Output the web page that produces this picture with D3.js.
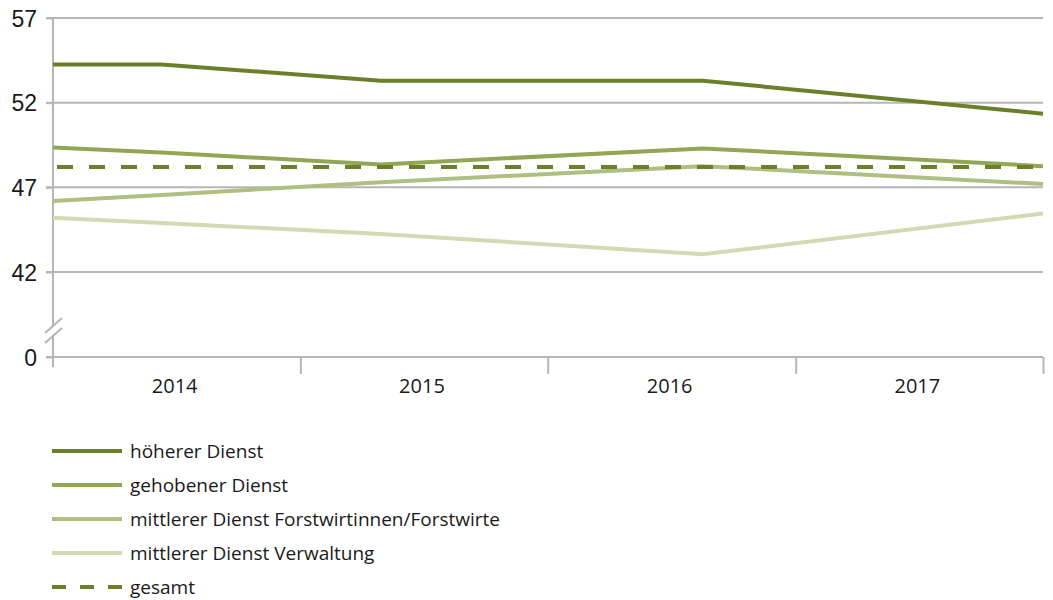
<!DOCTYPE html>
<html lang="de">
<head>
<meta charset="utf-8">
<script src="https://cdn.jsdelivr.net/npm/d3@7"></script>
<style>
  html, body { margin: 0; padding: 0; background: #fff; }
  svg { display: block; font-family: "Open Sans", "Noto Sans", sans-serif; }
</style>
</head>
<body>
<svg id="chart" width="1053" height="600"></svg>
<script>
// Observation dates shared by all series
const dates = ["2014-01-01", "2014-06-10", "2015-04-30", "2016-08-17", "2018-01-01"];

// Series values
const hoehererDienst = [54.25, 54.25, 53.3, 53.3, 51.35];
const gehobenerDienst = [49.35, 49.05, 48.35, 49.3, 48.25];
const mittlererForst = [46.2, 46.55, 47.3, 48.25, 47.2];
const mittlererVerwaltung = [45.2, 44.9, 44.25, 43.05, 45.45];
const gesamt = [48.2, 48.2, 48.2, 48.2, 48.2];

const seriesNames = [
  "höherer Dienst",
  "gehobener Dienst",
  "mittlerer Dienst Forstwirtinnen/Forstwirte",
  "mittlerer Dienst Verwaltung",
  "gesamt"
];
const seriesColors = ["#6b7f28", "#93a655", "#b0be82", "#d2dab4", "#6b7f28"];

// Axis labels
const yTicks = [0, 42, 47, 52, 57];
const years = ["2014", "2015", "2016", "2017"];
const yearBounds = ["2014-01-01", "2015-01-01", "2016-01-01", "2017-01-01", "2018-01-01"];

const parse = d3.utcParse("%Y-%m-%d");
const svg = d3.select("#chart");

const x = d3.scaleUtc()
  .domain([parse(yearBounds[0]), parse(yearBounds[yearBounds.length - 1])])
  .range([53, 1043]);

// Broken value axis: 0 sits one band below 42
const y = d3.scaleLinear()
  .domain([0, 42, 57])
  .range([357, 272, 18]);

const gridColor = "#b6b6b6";
const textColor = "#1a1a1a";

// Horizontal grid lines for the upper value range
svg.append("g")
  .selectAll("line")
  .data(yTicks.filter(v => v > 0))
  .join("line")
  .attr("x1", 46).attr("x2", 1043)
  .attr("y1", d => y(d)).attr("y2", d => y(d))
  .attr("stroke", gridColor).attr("stroke-width", 2);

// Y axis with labels
const yAxis = svg.append("g")
  .attr("transform", "translate(53,0)")
  .call(d3.axisLeft(y).tickValues(yTicks).tickSize(7).tickPadding(9).tickFormat(d3.format("d")));
yAxis.select(".domain").remove();
yAxis.selectAll(".tick line").attr("stroke", gridColor).attr("stroke-width", 2);
yAxis.selectAll(".tick text")
  .attr("fill", textColor)
  .style("font-size", "23px")
  .attr("dy", "0.36em");

// Vertical axis line, interrupted at the break
svg.append("line")
  .attr("x1", 53).attr("x2", 53)
  .attr("y1", y(57)).attr("y2", 326)
  .attr("stroke", gridColor).attr("stroke-width", 2);
svg.append("line")
  .attr("x1", 53).attr("x2", 53)
  .attr("y1", 335).attr("y2", 367)
  .attr("stroke", gridColor).attr("stroke-width", 2);

// Break marks
svg.append("g")
  .selectAll("line")
  .data([0, 10])
  .join("line")
  .attr("x1", 45).attr("x2", 62)
  .attr("y1", d => 333 + d).attr("y2", d => 318 + d)
  .attr("stroke", gridColor).attr("stroke-width", 2);

// X axis baseline and year boundary ticks
svg.append("line")
  .attr("x1", 46).attr("x2", 1043)
  .attr("y1", y(0)).attr("y2", y(0))
  .attr("stroke", gridColor).attr("stroke-width", 2);

const xTicks = svg.append("g")
  .attr("transform", `translate(0,${y(0)})`)
  .call(d3.axisBottom(x).tickValues(yearBounds.slice(1).map(parse)).tickSize(17).tickFormat(""));
xTicks.select(".domain").remove();
xTicks.selectAll(".tick line").attr("stroke", gridColor).attr("stroke-width", 2);

// Year labels centred in each year
const yearMid = years.map((yr, i) => new Date((parse(yearBounds[i]).getTime() + parse(yearBounds[i + 1]).getTime()) / 2));
svg.append("g")
  .selectAll("text")
  .data(years)
  .join("text")
  .attr("x", (d, i) => x(yearMid[i]) - 2)
  .attr("y", 393)
  .attr("text-anchor", "middle")
  .attr("fill", textColor)
  .style("font-size", "20px")
  .text(d => d);

// Lines
const allSeries = [hoehererDienst, gehobenerDienst, mittlererForst, mittlererVerwaltung, gesamt];
const line = d3.line()
  .x((d, i) => x(parse(dates[i])))
  .y(d => y(d));

// draw lightest first so darker lines sit on top
const drawOrder = [3, 2, 1, 0, 4];
svg.append("g")
  .selectAll("path")
  .data(drawOrder)
  .join("path")
  .attr("d", k => line(allSeries[k]))
  .attr("fill", "none")
  .attr("stroke", k => seriesColors[k])
  .attr("stroke-width", 4)
  .attr("stroke-dasharray", k => k === 4 ? "16,16" : null)
  .attr("stroke-dashoffset", k => k === 4 ? -4 : null);

// Legend
const legend = svg.append("g")
  .selectAll("g")
  .data(seriesNames)
  .join("g")
  .attr("transform", (d, i) => `translate(52,${451 + i * 34})`);

legend.append("line")
  .attr("x1", 0).attr("x2", 70)
  .attr("y1", 0).attr("y2", 0)
  .attr("stroke", (d, i) => seriesColors[i])
  .attr("stroke-width", 4)
  .attr("stroke-dasharray", (d, i) => i === 4 ? "14,14" : null);

legend.append("text")
  .attr("x", 78)
  .attr("y", 0)
  .attr("dy", "0.35em")
  .attr("fill", textColor)
  .style("font-size", "19px")
  .text(d => d);
</script>
</body>
</html>
